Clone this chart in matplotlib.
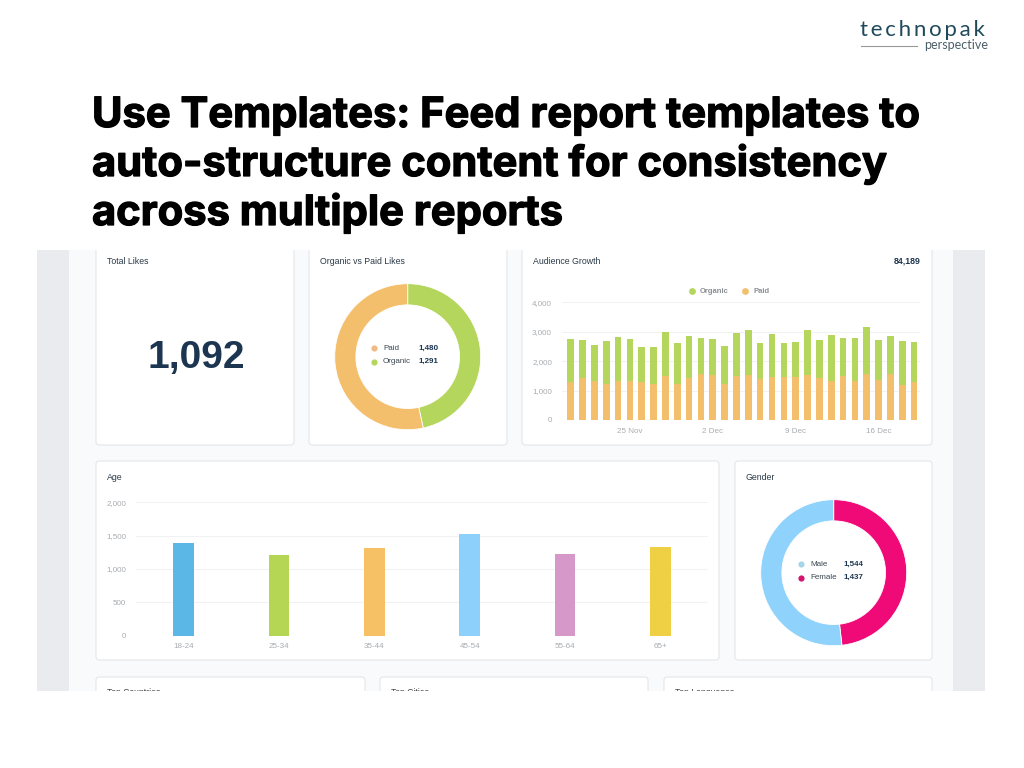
import matplotlib
matplotlib.use("Agg")
import matplotlib.pyplot as plt
import matplotlib.patheffects as pe
from matplotlib.patches import FancyBboxPatch, Rectangle
from matplotlib.ticker import FuncFormatter

title_lines = ["Use Templates: Feed report templates to",
               "auto-structure content for consistency",
               "across multiple reports"]

days = list(range(30))
date_ticks = [5, 12, 19, 26]
date_labels = ["25 Nov", "2 Dec", "9 Dec", "16 Dec"]
paid = [1280, 1420, 1340, 1210, 1330, 1330, 1280, 1210, 1510, 1210,
        1420, 1550, 1520, 1210, 1490, 1520, 1380, 1460, 1460, 1460,
        1520, 1420, 1330, 1490, 1330, 1550, 1350, 1550, 1180, 1280]
organic = [1475, 1310, 1200, 1465, 1490, 1425, 1200, 1270, 1470, 1410,
           1435, 1240, 1235, 1310, 1470, 1540, 1240, 1465, 1160, 1190,
           1540, 1300, 1560, 1300, 1450, 1600, 1370, 1305, 1510, 1370]

age_groups = ["18-24", "25-34", "35-44", "45-54", "55-64", "65+"]
age_values = [1390, 1210, 1310, 1525, 1225, 1330]
age_colors = ["#5bb8e6", "#b5d655", "#f6c065", "#8ed0fc", "#d598c8", "#efd044"]

likes_values = [1291, 1480]
gender_values = [1437, 1544]

GREEN = "#b4d65c"
ORANGE = "#f4bf6c"
PINK = "#f00a78"
BLUE = "#8fd2fb"
NAVY = "#1c3550"
TICK = "#a8acb0"
GRID = "#f0f2f3"
SANS = "Liberation Sans"

W, H = 1024, 768
fig = plt.figure(figsize=(W / 100, H / 100), dpi=100, facecolor="white")


def px_axes(x0, y0, x1, y1):
    # axes placed by pixel box, y counted from the top of the image
    return fig.add_axes([x0 / W, 1 - y1 / H, (x1 - x0) / W, (y1 - y0) / H])


bg = fig.add_axes([0, 0, 1, 1])
bg.set_xlim(0, W)
bg.set_ylim(H, 0)
bg.axis("off")

bg.add_patch(Rectangle((37, 250), 948, 441, fc="#e9ebee", ec="none", zorder=0))
bg.add_patch(Rectangle((69, 250), 884, 441, fc="#f9fafb", ec="none", zorder=1))

panels = [(96, 235, 294, 445), (309, 235, 507, 445), (522, 235, 932, 445),
          (96, 461, 719, 660), (735, 461, 932, 660),
          (96, 677, 365, 720), (380, 677, 648, 720), (664, 677, 932, 720)]
for x0, y0, x1, y1 in panels:
    bg.add_patch(FancyBboxPatch((x0 + 3, y0 + 3), x1 - x0 - 6, y1 - y0 - 6,
                                boxstyle="round,pad=3", fc="white", ec="#e0e3e7",
                                lw=0.7, zorder=2))

for x, name in [(107, "Top Countries"), (391, "Top Cities"), (675, "Top Languages")]:
    bg.text(x, 695, name, fontsize=6.2, family=SANS, color="#444444", zorder=3)

# page white above and below the screenshot crops panels and the bottom row text
bg.add_patch(Rectangle((0, 0), W, 250, fc="white", ec="none", zorder=5))
bg.add_patch(Rectangle((0, 691), W, 77, fc="white", ec="none", zorder=5))

for line, y in zip(title_lines, [127, 176, 225]):
    bg.text(92, y, line, fontsize=30, family="Inter", weight="bold", color="black",
            va="baseline", zorder=6,
            path_effects=[pe.withStroke(linewidth=0.9, foreground="black")])

bg.text(860, 36, "\u2009".join("technopak"), fontsize=16, family=["Lato", "DejaVu Sans"],
        color="#1f4a5a", va="baseline", zorder=6)
bg.plot([861, 917], [45.7, 45.7], color="#999999", lw=0.8, zorder=6)
bg.text(988, 49, "perspective", fontsize=9, family="Lato", color="#4a5f68",
        ha="right", va="baseline", zorder=6)

for x, y, name in [(107, 261, "Total Likes"), (320, 261, "Organic vs Paid Likes"),
                   (533, 261, "Audience Growth"), (107, 477, "Age"), (746, 477, "Gender")]:
    bg.text(x, y, name, fontsize=6.3, family=SANS, color="#2b3a47", va="center", zorder=6)
bg.text(921, 261, "84,189", fontsize=6.3, family=SANS, weight="bold", color=NAVY,
        ha="right", va="center", zorder=6)
bg.text(196, 368, "1,092", fontsize=28, family=SANS, weight="bold", color=NAVY,
        ha="center", va="baseline", zorder=6)

# legends
for dx, tx, y, name, c in [(691.7, 700, 291.3, "Organic", GREEN), (744.7, 753, 291.3, "Paid", ORANGE)]:
    bg.scatter([dx], [y], s=24, color=c, lw=0, zorder=6)
    bg.text(tx, y, name, fontsize=5.5, family=SANS, weight="bold", color="#8a8f94", va="center", zorder=6)

donut_legends = [(374, 383, 418.3, 348.3, "Paid", "1,480", "#eebb85"),
                 (374, 383, 418.3, 361.7, "Organic", "1,291", GREEN),
                 (800.7, 810, 843, 564, "Male", "1,544", "#a5d5e8"),
                 (800.7, 810, 843, 577.5, "Female", "1,437", "#d3136f")]
for dx, tx, vx, y, name, val, c in donut_legends:
    bg.scatter([dx], [y], s=20, color=c, lw=0, zorder=6)
    bg.text(tx, y, name, fontsize=5.8, family=SANS, color="#3a4650", va="center", zorder=6)
    bg.text(vx, y, val, fontsize=5.8, family=SANS, weight="bold", color=NAVY, va="center", zorder=6)


def style_axis(ax, pad):
    ax.patch.set_alpha(0)
    for s in ax.spines.values():
        s.set_visible(False)
    ax.grid(axis="y", color=GRID, lw=0.8)
    ax.set_axisbelow(True)
    ax.tick_params(length=0, labelsize=5.8, labelcolor=TICK, pad=7)
    ax.tick_params(axis="x", pad=pad)
    ax.yaxis.set_major_formatter(FuncFormatter(lambda v, pos: f"{v:,.0f}"))
    for label in ax.get_xticklabels() + ax.get_yticklabels():
        label.set_family(SANS)


ax1 = px_axes(561.7, 302.3, 920, 420)
ax1.bar(days, paid, width=0.56, color=ORANGE)
ax1.bar(days, organic, width=0.56, bottom=paid, color=GREEN)
ax1.set_xlim(-0.76, 29.5)
ax1.set_ylim(0, 4000)
ax1.set_yticks([0, 1000, 2000, 3000, 4000])
ax1.set_xticks(date_ticks, date_labels)
style_axis(ax1, 5.5)

ax2 = px_axes(136, 502.3, 708, 635.7)
ax2.bar(age_groups, age_values, width=0.22, color=age_colors)
ax2.set_xlim(-0.5, 5.5)
ax2.set_ylim(0, 2000)
ax2.set_yticks([0, 500, 1000, 1500, 2000])
style_axis(ax2, 5.5)


def donut(cx, cy, r, values, colors):
    ax = px_axes(cx - r, cy - r, cx + r, cy + r)
    ax.pie(values, colors=colors, startangle=90, counterclock=False, radius=1,
           wedgeprops={"width": 0.29, "edgecolor": "white", "linewidth": 0.6})
    ax.set_xlim(-1, 1)
    ax.set_ylim(-1, 1)
    return ax


donut(407.7, 356.7, 73, likes_values, [GREEN, ORANGE])
donut(833.7, 572.7, 73, gender_values, [PINK, BLUE])

fig.savefig("out.png", dpi=100)
